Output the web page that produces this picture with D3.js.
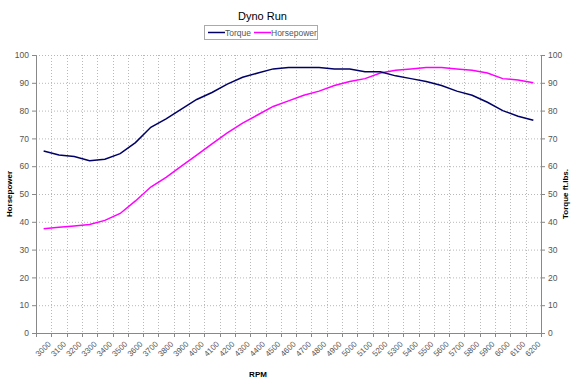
<!DOCTYPE html>
<html>
<head>
<meta charset="utf-8">
<script src="https://cdn.jsdelivr.net/npm/d3@7"></script>
<style>
body { margin: 0; background: #fff; }
text { font-family: "Liberation Sans", Arial, sans-serif; }
</style>
</head>
<body>
<div id="chart"></div>
<script>
var rpm = [3000,3100,3200,3300,3400,3500,3600,3700,3800,3900,4000,4100,4200,4300,4400,4500,4600,4700,4800,4900,5000,5100,5200,5300,5400,5500,5600,5700,5800,5900,6000,6100,6200];
var torque = [65.5,64,63.5,62,62.5,64.5,68.5,74,77,80.5,84,86.5,89.5,92,93.5,95,95.5,95.5,95.5,95,95,94,94,92.5,91.5,90.5,89,87,85.5,83,80,78,76.5];
var horsepower = [37.5,38,38.5,39,40.5,43,47.5,52.5,56,60,64,68,72,75.5,78.5,81.5,83.5,85.5,87,89,90.5,91.5,93.5,94.5,95,95.5,95.5,95,94.5,93.5,91.5,91,90];
var yTicks = d3.range(0, 101, 10);

var width = 575, height = 380;
var m = {top: 55, right: 34, bottom: 47, left: 36};
var w = width - m.left - m.right, h = height - m.top - m.bottom;

var svg = d3.select("#chart").append("svg").attr("width", width).attr("height", height);
var g = svg.append("g").attr("transform", "translate(" + m.left + "," + m.top + ")");

var x = d3.scaleBand().domain(rpm).range([0, w]);
var y = d3.scaleLinear().domain([0, 100]).range([h, 0]);
var y2 = d3.scaleLinear().domain([0, 100]).range([h, 0]);

// gridlines
g.append("g").selectAll("line")
	.data(yTicks.slice(1))
	.enter().append("line")
		.attr("x1", 0).attr("x2", w)
		.attr("y1", d => y(d) + 0.5).attr("y2", d => y(d) + 0.5)
		.style("stroke", "#b8b8b8").style("stroke-dasharray", "1,2");
g.append("g").selectAll("line")
	.data(rpm.slice(1))
	.enter().append("line")
		.attr("x1", d => Math.round(x(d)) + 0.5).attr("x2", d => Math.round(x(d)) + 0.5)
		.attr("y1", 0).attr("y2", h)
		.style("stroke", "#b8b8b8").style("stroke-dasharray", "1,2");

// axes
var xAxis = g.append("g").attr("transform", "translate(0," + h + ")")
	.call(d3.axisBottom(x).tickSize(0).tickPadding(6));
xAxis.select(".domain").remove();
xAxis.append("line").attr("x1", 0).attr("x2", w).attr("y1", 0.5).attr("y2", 0.5).style("stroke", "#888");
xAxis.selectAll(".tickmark").data(rpm.concat(["end"])).enter().append("line")
	.attr("x1", (d, i) => Math.round(i * x.step()) + 0.5).attr("x2", (d, i) => Math.round(i * x.step()) + 0.5)
	.attr("y1", 0).attr("y2", 4).style("stroke", "#888");
xAxis.selectAll(".tick text")
	.style("font-size", "8px").style("fill", "#555")
	.attr("text-anchor", "end")
	.attr("transform", "translate(-1,5) rotate(-45)")
	.attr("dx", "0.2em").attr("dy", "0.6em");

var yAxis = g.append("g").call(d3.axisLeft(y).tickValues(yTicks).tickSize(4).tickPadding(3));
var yAxis2 = g.append("g").attr("transform", "translate(" + w + ",0)")
	.call(d3.axisRight(y2).tickValues(yTicks).tickSize(4).tickPadding(3));
[yAxis, yAxis2].forEach(a => {
	a.select(".domain").style("stroke", "#888");
	a.selectAll(".tick line").style("stroke", "#888");
	a.selectAll(".tick text").style("font-size", "8.5px").style("fill", "#555");
});

// lines
var line = d3.line().x((d, i) => x(rpm[i]) + x.bandwidth() / 2).y(d => y(d));
g.append("path").datum(horsepower)
	.attr("d", line).style("fill", "none").style("stroke", "#ff00ff").style("stroke-width", 1.5);
g.append("path").datum(torque)
	.attr("d", line).style("fill", "none").style("stroke", "#000066").style("stroke-width", 1.5);

// titles
svg.append("text").attr("x", width / 2 - 25).attr("y", 20).attr("text-anchor", "middle")
	.style("font-size", "11px").text("Dyno Run");
svg.append("text").attr("x", 258).attr("y", 377).attr("text-anchor", "middle")
	.style("font-size", "8px").style("font-weight", "bold").text("RPM");
svg.append("text").attr("transform", "translate(12," + (m.top + h / 2) + ") rotate(-90)")
	.attr("text-anchor", "middle").style("font-size", "8px").style("font-weight", "bold").text("Horsepower");
svg.append("text").attr("transform", "translate(568," + (m.top + h / 2) + ") rotate(-90)")
	.attr("text-anchor", "middle").style("font-size", "8px").style("font-weight", "bold").text("Torque ft.lbs.");

// legend
var legend = svg.append("g").attr("transform", "translate(204,25)");
legend.append("rect").attr("x", 0.5).attr("y", 0.5).attr("width", 113).attr("height", 14)
	.style("fill", "#fff").style("stroke", "#aaa");
var items = [{name: "Torque", color: "#000066", x: 4}, {name: "Horsepower", color: "#ff00ff", x: 50}];
items.forEach(it => {
	legend.append("line").attr("x1", it.x).attr("x2", it.x + 17).attr("y1", 7.5).attr("y2", 7.5)
		.style("stroke", it.color).style("stroke-width", 1.5);
	legend.append("text").attr("x", it.x + 17).attr("y", 10.5).style("font-size", "8.5px").style("fill", "#555").text(it.name);
});
</script>
</body>
</html>
